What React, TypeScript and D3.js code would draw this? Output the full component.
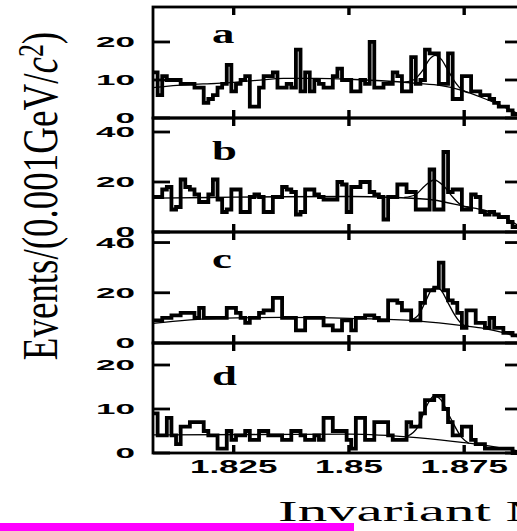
import React from 'react';
import * as d3 from 'd3';

// ---- data ----
const BIN_START = 1.8075; // GeV/c^2, left edge of first bin
const BIN_WIDTH = 0.001;

const countsA = [12,6,11,10,10,10,9,9,9,8, 8,4,5,6,8,9,14,7,9,10, 11,3,3,8,11,11,12,8,8,9, 8,18,7,12,7,10,9,8,8,11, 13,10,10,7,7,10,9,20,8,8, 9,9,12,11,7,7,16,9,10,18, 17,17,9,9,17,5,5,11,11,7, 7,6,6,5,4,3,3,2,1];
const countsB = [14,14,17,18,9,10,21,18,17,15, 12,12,15,21,13,8,9,17,17,8, 8,14,15,14,8,8,14,14,18,17, 16,7,8,17,17,15,14,13,13,13, 20,19,8,18,18,20,20,16,15,14, 5,14,14,19,19,16,16,9,9,9, 25,9,9,32,16,17,17,9,9,15, 14,8,7,8,7,6,6,4,2];
const countsC = [9,9,10,10,11,11,12,12,12,10, 14,10,10,10,10,10,14,14,12,10, 8,10,10,12,13,13,18,18,10,10, 10,5,5,10,10,10,10,7,7,5, 5,9,9,5,10,10,11,11,10,9, 9,17,17,16,13,13,9,9,16,21, 21,22,32,21,17,16,12,6,13,13, 8,8,6,10,6,6,4,4,3];
const countsD = [9,4,4,8,4,2,6,6,7,7, 7,5,4,4,1,1,5,3,4,4, 5,3,3,5,5,4,4,4,3,3, 5,5,4,3,3,4,3,8,8,5, 5,5,3,1,8,8,3,3,7,7, 7,4,3,3,3,7,6,6,9,12, 12,13,13,10,7,4,4,6,6,3, 2,2,1,1,1,1,1,1,0];

// background fit curves [mass, events]
const bgA: [number, number][] = [[1.8075,8.0],[1.815,8.8],[1.8213,9.1],[1.830,9.9],[1.8358,10.4],[1.843,10.4],[1.850,10.2],[1.857,9.8],[1.8647,9.1],[1.870,8.5],[1.8741,7.4],[1.8792,5.2],[1.8835,3.0],[1.8865,1.2]];
const bgB: [number, number][] = [[1.8075,13.5],[1.820,13.8],[1.835,14.1],[1.850,14.2],[1.860,13.8],[1.8683,12.8],[1.8755,10.1],[1.8792,8.8],[1.8835,6.1],[1.8865,2.8]];
const bgC: [number, number][] = [[1.8075,7.8],[1.8213,9.8],[1.8358,10.2],[1.8502,9.8],[1.8647,8.8],[1.8755,6.7],[1.8792,5.8],[1.8835,4.1],[1.8865,2.5]];
const bgD: [number, number][] = [[1.8075,4.1],[1.8300,4.2],[1.8502,4.3],[1.8647,3.5],[1.8755,2.3],[1.8792,1.8],[1.8865,0.5]];

// signal + background fit curves around the peak [mass, events]
const peakA: [number, number][] = [[1.862,9.4],[1.864,10.0],[1.866,12.5],[1.8675,15.5],[1.8687,16.5],[1.870,15.5],[1.8715,12.5],[1.873,9.5],[1.8745,7.4],[1.876,6.6]];
const peakB: [number, number][] = [[1.862,13.8],[1.8645,15],[1.8665,18.5],[1.8685,20.8],[1.8705,18.5],[1.8725,14],[1.8745,10.6],[1.876,9.9]];
const peakC: [number, number][] = [[1.863,8.9],[1.865,11],[1.8665,16],[1.868,21.5],[1.8688,22.3],[1.870,21],[1.8715,16],[1.873,11],[1.8745,7.6],[1.876,6.6]];
const peakD: [number, number][] = [[1.8625,3.7],[1.865,6],[1.867,11],[1.8685,13],[1.870,12],[1.872,8],[1.8745,3.5],[1.876,2.2]];

const panelLabels = ['a', 'b', 'c', 'd'];
const yTicksA = [0, 10, 20];
const yTicksB = [0, 20, 40];
const yTicksC = [0, 20, 40];
const yTicksD = [0, 10, 20];
const xTicks = [1.825, 1.85, 1.875];
const xTickLabels = ['1.825', '1.85', '1.875'];

// ---- layout ----
const W = 517, H = 531;
const LEFT = 153, RIGHT = 522;
const layout = [
  { top: 7, bottom: 118, yMax: 29.2, labelY: 43 },
  { top: 118, bottom: 232, yMax: 45.6, labelY: 160 },
  { top: 232, bottom: 343, yMax: 44.2, labelY: 268 },
  { top: 343, bottom: 453, yMax: 25, labelY: 385 },
];
const panelData = [
  { counts: countsA, bg: bgA, peak: peakA, ticks: yTicksA },
  { counts: countsB, bg: bgB, peak: peakB, ticks: yTicksB },
  { counts: countsC, bg: bgC, peak: peakC, ticks: yTicksC },
  { counts: countsD, bg: bgD, peak: peakD, ticks: yTicksD },
];

const x = d3.scaleLinear().domain([1.8075, 1.8865]).range([LEFT, 517.2]);

export default function App() {
  return (
    <svg width={W} height={H} style={{ position: 'absolute', left: 0, top: 0, background: '#fff' }}>
      <rect x={0} y={0} width={W} height={H} fill="#fff" />
      {layout.map((L, pi) => {
        const P = panelData[pi];
        const y = d3.scaleLinear().domain([0, L.yMax]).range([L.bottom, L.top]);
        const pts: [number, number][] = P.counts.map((c, i) => [BIN_START + i * BIN_WIDTH, c]);
        pts.push([BIN_START + P.counts.length * BIN_WIDTH, P.counts[P.counts.length - 1]]);
        const step = d3.line<[number, number]>().x(d => x(d[0])).y(d => y(d[1])).curve(d3.curveStepAfter);
        const smooth = d3.line<[number, number]>().x(d => x(d[0])).y(d => y(d[1])).curve(d3.curveMonotoneX);
        return (
          <g key={pi}>
            <path d={step(pts) || ''} fill="none" stroke="#000" strokeWidth={3.8} />
            <path d={smooth(P.bg) || ''} fill="none" stroke="#000" strokeWidth={1.3} />
            <path d={smooth(P.peak) || ''} fill="none" stroke="#000" strokeWidth={1.3} />
            <rect x={LEFT} y={L.top} width={RIGHT - LEFT} height={L.bottom - L.top} fill="none" stroke="#000" strokeWidth={2.8} />
            {xTicks.map((t, i) => (
              <g key={i}>
                <line x1={x(t)} x2={x(t)} y1={L.top} y2={L.top + 8} stroke="#000" strokeWidth={3.4} />
                <line x1={x(t)} x2={x(t)} y1={L.bottom} y2={L.bottom - 8} stroke="#000" strokeWidth={3.4} />
              </g>
            ))}
            {P.ticks.map((t, i) => (
              <g key={i}>
                <line x1={LEFT} x2={LEFT + 17} y1={y(t)} y2={y(t)} stroke="#000" strokeWidth={2.8} />
                <line x1={RIGHT - 17} x2={RIGHT} y1={y(t)} y2={y(t)} stroke="#000" strokeWidth={2.8} />
                <text transform={`translate(135,${y(t)}) scale(2.5,1)`} textAnchor="end" dy="0.36em"
                  fontFamily="'Liberation Sans', Arial, sans-serif" fontWeight="bold" fontSize={14} fill="#000">{t}</text>
              </g>
            ))}
            <text transform={`translate(212,${L.labelY}) scale(1.6,1)`} fontFamily="'Liberation Serif', serif"
              fontWeight="bold" fontSize={28} fill="#000">{panelLabels[pi]}</text>
          </g>
        );
      })}
      {xTicks.map((t, i) => (
        <text key={i} transform={`translate(${x(t)},473) scale(1.94,1)`} textAnchor="middle"
          fontFamily="'Liberation Sans', Arial, sans-serif" fontWeight="bold" fontSize={18} fill="#000">{xTickLabels[i]}</text>
      ))}
      <text transform="translate(278,521) scale(2.07,1)" fontFamily="'Liberation Serif', serif" fontSize={28.5} fill="#000">
        Invariant Mass (GeV/<tspan fontStyle="italic">c</tspan><tspan dy="-0.4em" fontSize="0.7em">2</tspan><tspan dy="0.28em">)</tspan>
      </text>
      <text transform="translate(57,196) scale(1.38,1) rotate(-90)" textAnchor="middle" fontFamily="'Liberation Serif', serif" fontSize={37} fill="#000">
        Events/(0.001GeV/<tspan fontStyle="italic">c</tspan><tspan dy="-0.4em" fontSize="0.7em">2</tspan><tspan dy="0.28em">)</tspan>
      </text>
      <rect x={0} y={523} width={354} height={8} fill="#ff00ff" />
    </svg>
  );
}
